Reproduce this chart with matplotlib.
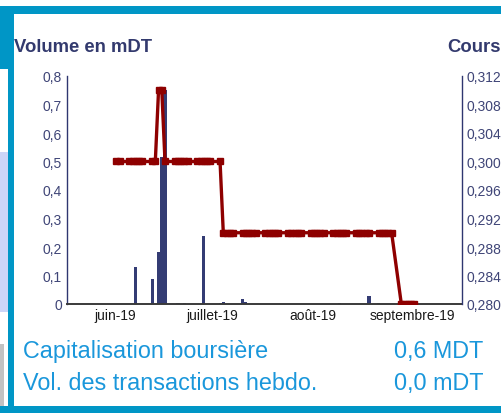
import matplotlib
matplotlib.use("Agg")
import matplotlib.pyplot as plt
import matplotlib.dates as mdates
import matplotlib.transforms as mtransforms
from matplotlib.patches import Rectangle
import pandas as pd
import numpy as np

plt.rcParams['font.family'] = ['Liberation Sans', 'DejaVu Sans']

# ---------------- data ----------------
vol_dates = ["2019-06-05", "2019-06-10", "2019-06-12", "2019-06-13", "2019-06-14",
             "2019-06-18", "2019-06-20", "2019-06-26", "2019-07-01", "2019-07-02",
             "2019-07-08", "2019-07-09", "2019-08-07", "2019-08-16", "2019-08-19"]
vol_values = [0.13, 0.088, 0.184, 0.515, 0.751,
              0.003, 0.003, 0.24, 0.003, 0.007,
              0.016, 0.008, 0.003, 0.029, 0.004]

price_start = "2019-05-30"
price_end = "2019-08-30"
price_values = [
    0.300, 0.300,                               # 30-31 May
    0.300, 0.300, 0.300, 0.300, 0.300,          # 3-7 Jun
    0.300, 0.300, 0.310, 0.310, 0.300,          # 10-14 Jun
    0.300, 0.300, 0.300, 0.300, 0.300,          # 17-21 Jun
    0.300, 0.300, 0.300, 0.300, 0.300,          # 24-28 Jun
    0.300, 0.290, 0.290, 0.290, 0.290,          # 1-5 Jul
    0.290, 0.290, 0.290, 0.290, 0.290,          # 8-12 Jul
    0.290, 0.290, 0.290, 0.290, 0.290,          # 15-19 Jul
    0.290, 0.290, 0.290, 0.290, 0.290,          # 22-26 Jul
    0.290, 0.290, 0.290, 0.290, 0.290,          # 29 Jul-2 Aug
    0.290, 0.290, 0.290, 0.290, 0.290,          # 5-9 Aug
    0.290, 0.290, 0.290, 0.290, 0.290,          # 12-16 Aug
    0.290, 0.290, 0.290, 0.290, 0.290,          # 19-23 Aug
    0.280, 0.280, 0.280, 0.280, 0.280,          # 26-30 Aug
]

month_ticks = ["2019-06-01", "2019-07-01", "2019-08-01", "2019-09-01"]
month_labels = ["juin-19", "juillet-19", "août-19", "septembre-19"]

vol_ticks = [0, 0.1, 0.2, 0.3, 0.4, 0.5, 0.6, 0.7, 0.8]
vol_tick_labels = ["0", "0,1", "0,2", "0,3", "0,4", "0,5", "0,6", "0,7", "0,8"]
price_ticks = [0.280, 0.284, 0.288, 0.292, 0.296, 0.300, 0.304, 0.308, 0.312]
price_tick_labels = ["0,280", "0,284", "0,288", "0,292", "0,296", "0,300", "0,304", "0,308", "0,312"]

title_left = "Volume en mDT"
title_right = "Cours"
info_labels = ["Capitalisation boursière", "Vol. des transactions hebdo."]
info_values = ["0,6 MDT", "0,0 mDT"]

# ---------------- figure ----------------
W, H = 501, 414
fig = plt.figure(figsize=(W / 100, H / 100), dpi=100)
fig.patch.set_facecolor("white")

def px_rect(x0, y0, w, h, color):
    fig.patches.append(Rectangle((x0 / W, 1 - (y0 + h) / H), w / W, h / H,
                                 transform=fig.transFigure, facecolor=color,
                                 edgecolor="none", zorder=0))

blue = "#0096C6"
px_rect(0, 7, 501, 7.5, blue)
px_rect(0, 7, 14, 63, blue)
px_rect(8, 7, 6, 407, blue)
px_rect(0, 153, 8, 160, "#CCD5F8")
px_rect(0, 345, 4, 63, "#C2C2C2")
px_rect(0, 407, 501, 7, blue)

ax_l, ax_r, ax_t, ax_b = 67, 462, 77, 305
ax = fig.add_axes([ax_l / W, 1 - ax_b / H, (ax_r - ax_l) / W, (ax_b - ax_t) / H])
ax2 = ax.twinx()

navy = "#343C74"
red = "#8E0000"
lab_col = "#3F4577"

vd = pd.to_datetime(vol_dates)
ax.bar(vd, vol_values, width=0.95, color=navy, zorder=2)

pdates = pd.bdate_range(price_start, price_end)
ax2.plot(pdates, price_values, color=red, lw=2.4, marker='s', ms=4.5,
         mfc=red, mec=red, zorder=3)

ref = mdates.date2num(pd.Timestamp("2019-05-31"))
ax.set_xlim(ref - 16.28, ref + 105.74)
ax.set_ylim(0, 0.8)
ax2.set_ylim(0.280, 0.312)

ax.set_yticks(vol_ticks, vol_tick_labels)
ax2.set_yticks(price_ticks, price_tick_labels)
ax.set_xticks(pd.to_datetime(month_ticks), month_labels)

ax.tick_params(axis='y', length=0, pad=3.6, labelsize=10, labelcolor=lab_col)
ax2.tick_params(axis='y', length=0, pad=3.4, labelsize=10, labelcolor=lab_col)
ax.tick_params(axis='x', length=0, pad=3, labelsize=10, labelcolor="#1a1a1a")

offset = mtransforms.ScaledTranslation(-8 / 100, 0, fig.dpi_scale_trans)
for lbl in ax.get_xticklabels():
    lbl.set_transform(lbl.get_transform() + offset)

for a in (ax, ax2):
    a.spines['top'].set_visible(False)
    a.set_facecolor("none")
ax.spines['right'].set_visible(False)
ax2.spines['left'].set_visible(False)
ax2.spines['bottom'].set_visible(False)
ax.spines['left'].set_color("#2F3670")
ax.spines['left'].set_linewidth(1.0)
ax2.spines['right'].set_color("#2F3670")
ax2.spines['right'].set_linewidth(1.0)
ax.spines['bottom'].set_color("#3a3a3a")
ax.spines['bottom'].set_linewidth(1.4)

title_col = "#333A6E"
fig.text(14 / W, 1 - 52 / H, title_left, fontsize=13.3, fontweight='bold',
         color=title_col, ha='left', va='baseline')
fig.text(447 / W, 1 - 52 / H, title_right, fontsize=13.3, fontweight='bold',
         color=title_col, ha='left', va='baseline')

info_col = "#1A97DB"
for i, (lab, val) in enumerate(zip(info_labels, info_values)):
    yb = 358 + i * 32
    fig.text(23 / W, 1 - yb / H, lab, fontsize=16.8, color=info_col,
             ha='left', va='baseline')
    fig.text(483 / W, 1 - yb / H, val, fontsize=16.8, color=info_col,
             ha='right', va='baseline')

fig.savefig("out.png", dpi=100)
